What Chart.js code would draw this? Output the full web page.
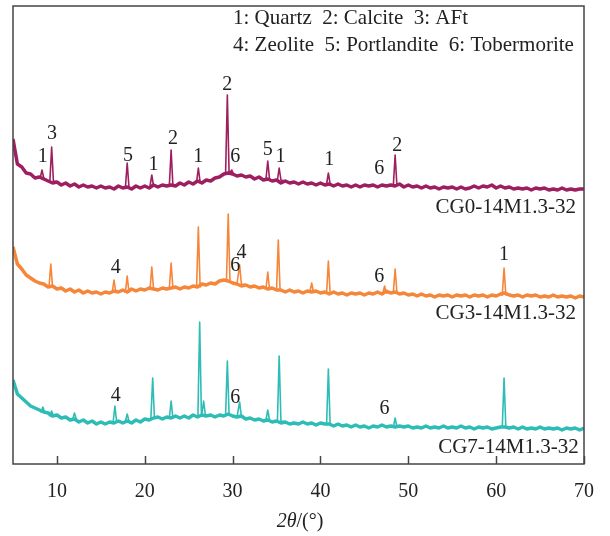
<!DOCTYPE html>
<html>
<head>
<meta charset="utf-8">
<script src="https://cdn.jsdelivr.net/npm/chart.js@4.4.1/dist/chart.umd.min.js"></script>
<style>
html, body { margin: 0; padding: 0; background: #fff; }
#wrap { width: 610px; height: 536px; }
</style>
</head>
<body>
<div id="wrap"><canvas id="myChart" width="610" height="536"></canvas></div>
<script>
/* Datos (intensidad relativa, apilada) */

const baseInicio = 5;   // 2theta del primer punto de fondo
const basePaso = 0.5;   // separacion de los puntos de fondo

// fondo de cada difractograma, de 5 a 70 grados
const fondoCG0 = [325, 300, 297, 291, 290, 286, 287, 285, 283, 281, 282, 279, 281, 278, 280, 277, 279, 277, 278, 276,
  278, 276, 277, 275, 278, 276, 277, 275, 278, 276, 278, 276, 279, 277, 279, 278, 279, 278, 281, 279,
  282, 280, 283, 281, 284, 283, 286, 287, 290, 291, 290, 288, 289, 287, 288, 285, 287, 284, 285, 283,
  284, 281, 283, 281, 282, 280, 282, 280, 281, 279, 281, 279, 280, 278, 280, 278, 279, 277, 279, 277,
  279, 278, 279, 277, 279, 278, 279, 278, 280, 277, 279, 277, 278, 276, 278, 276, 277, 275, 277, 276,
  277, 275, 277, 275, 276, 278, 276, 278, 277, 279, 276, 278, 276, 277, 275, 276, 275, 276, 274, 276,
  275, 276, 274, 275, 274, 276, 274, 275, 274, 275, 275];

const fondoCG3 = [217, 200, 195, 189, 186, 183, 181, 180, 177, 178, 175, 176, 173, 175, 172, 174, 171, 173, 171, 172,
  170, 172, 171, 173, 172, 174, 172, 175, 173, 175, 174, 176, 175, 174, 176, 175, 176, 177, 175, 177,
  176, 178, 177, 180, 179, 181, 180, 183, 184, 183, 181, 180, 178, 179, 177, 178, 176, 177, 175, 176,
  174, 174, 172, 174, 172, 173, 171, 173, 172, 173, 171, 172, 170, 172, 170, 171, 169, 171, 170, 171,
  169, 171, 170, 172, 170, 173, 171, 172, 170, 171, 169, 170, 168, 170, 168, 169, 167, 169, 168, 169,
  167, 169, 168, 169, 167, 169, 168, 169, 167, 169, 168, 170, 171, 169, 168, 169, 167, 169, 168, 169,
  167, 168, 167, 169, 167, 168, 167, 168, 166, 168, 167];

const fondoCG7 = [84, 70, 66, 62, 58, 56, 54, 52, 51, 48, 49, 46, 47, 44, 45, 42, 44, 41, 43, 40,
  42, 40, 42, 41, 43, 41, 43, 41, 44, 42, 45, 44, 46, 47, 45, 47, 46, 48, 46, 48,
  46, 49, 47, 49, 48, 49, 47, 49, 48, 50, 48, 47, 48, 45, 46, 44, 45, 43, 44, 42,
  43, 41, 42, 40, 41, 40, 42, 40, 41, 39, 41, 40, 40, 38, 40, 38, 39, 37, 39, 37,
  38, 36, 38, 37, 39, 37, 38, 37, 38, 37, 38, 36, 37, 36, 38, 36, 37, 36, 38, 36,
  37, 36, 38, 36, 37, 35, 37, 36, 37, 35, 36, 37, 37, 36, 37, 35, 37, 35, 36, 35,
  37, 35, 36, 35, 36, 34, 36, 35, 36, 34, 36];

// picos: [2theta, altura, fondo al pie]
const picosCG0 = [[8.3, 294, 286], [9.4, 317, 283], [18.0, 301, 277], [20.8, 289, 278], [23.0, 314, 279],
  [26.1, 296, 282], [29.4, 369, 290], [29.9, 294, 290], [34.0, 303, 285], [35.3, 296, 284],
  [40.9, 291, 280], [48.5, 309, 279]];

const picosCG3 = [[9.3, 200, 177], [16.5, 184, 172], [18.0, 188, 172], [20.8, 197, 175], [23.0, 201, 176],
  [26.1, 237, 177], [29.5, 250, 183], [30.8, 199, 180], [34.0, 192, 175], [35.2, 224, 174],
  [39.0, 181, 172], [40.9, 203, 171], [47.3, 178, 171], [48.5, 195, 172], [60.9, 196, 169]];

const picosCG7 = [[8.4, 57, 52], [9.4, 53, 48], [12.0, 51, 45], [16.6, 58, 42], [18.0, 50, 43],
  [20.9, 86, 46], [23.0, 63, 46], [26.25, 142, 48], [26.7, 63, 49], [29.4, 103, 49],
  [30.8, 62, 47], [34.0, 54, 44], [35.3, 108, 43], [40.9, 95, 40], [48.5, 46, 37], [60.9, 86, 37]];

// etiquetas de fases: [2theta, intensidad, texto]
const etiquetasCG0 = [[8.4, 307, '1'], [9.45, 330, '3'], [18.1, 308, '5'], [21.0, 299, '1'], [23.2, 325, '2'],
  [26.1, 307, '1'], [29.4, 379, '2'], [30.3, 307, '6'], [34.0, 314, '5'], [35.45, 307, '1'],
  [41.0, 304, '1'], [46.7, 295, '6'], [48.75, 318, '2']];
const etiquetasCG3 = [[16.7, 196, '4'], [31.0, 211, '4'], [30.3, 198, '6'], [46.7, 187, '6'], [60.9, 209, '1']];
const etiquetasCG7 = [[16.7, 68, '4'], [30.3, 66, '6'], [47.3, 55, '6']];

const nombres = ['CG0-14M1.3-32', 'CG3-14M1.3-32', 'CG7-14M1.3-32'];
const nombresPos = [[69.1, 257], [69.1, 151], [69.4, 17]];

const leyenda = ['1: Quartz  2: Calcite  3: AFt', '4: Zeolite  5: Portlandite  6: Tobermorite'];
const ticksX = [10, 20, 30, 40, 50, 60, 70];

const colores = ['#9e1f5f', '#f5863a', '#2ebdb6'];
const fuente = '"Liberation Serif", "Times New Roman", serif';

function soloFondo(fondo) {
  return fondo.map((v, i) => ({ x: baseInicio + i * basePaso, y: v }));
}

function construir(fondo, picos) {
  const pts = [];
  fondo.forEach(function(v, i) {
    const x = baseInicio + i * basePaso;
    if (picos.some(p => Math.abs(p[0] - x) < 0.25)) return;
    pts.push({ x: x, y: v });
  });
  picos.forEach(function(p) {
    pts.push({ x: p[0] - 0.2, y: p[2] });
    pts.push({ x: p[0], y: p[1] });
    pts.push({ x: p[0] + 0.2, y: p[2] });
  });
  pts.sort((a, b) => a.x - b.x);
  return pts;
}

/* Marco, ticks hacia dentro y textos */
const extras = {
  id: 'extras',
  afterDraw(chart) {
    const ctx = chart.ctx;
    const a = chart.chartArea;
    const xs = chart.scales.x;
    const ys = chart.scales.y;
    ctx.save();

    ctx.strokeStyle = '#444';
    ctx.lineWidth = 1.5;
    ctx.strokeRect(a.left, a.top, a.right - a.left, a.bottom - a.top);
    ticksX.forEach(function(t) {
      const px = Math.round(xs.getPixelForValue(t)) + 0.5;
      ctx.beginPath();
      ctx.moveTo(px, a.bottom);
      ctx.lineTo(px, a.bottom - 8);
      ctx.stroke();
    });

    ctx.fillStyle = '#222';
    ctx.textAlign = 'center';
    ctx.textBaseline = 'middle';
    ctx.font = '20px ' + fuente;
    [etiquetasCG0, etiquetasCG3, etiquetasCG7].forEach(function(lista) {
      lista.forEach(function(e) {
        ctx.fillText(e[2], xs.getPixelForValue(e[0]), ys.getPixelForValue(e[1]));
      });
    });

    ctx.font = '21px ' + fuente;
    ctx.textAlign = 'right';
    nombres.forEach(function(n, i) {
      ctx.fillText(n, xs.getPixelForValue(nombresPos[i][0]), ys.getPixelForValue(nombresPos[i][1]));
    });

    ctx.textAlign = 'left';
    ctx.fillText(leyenda[0], 233, 18);
    ctx.fillText(leyenda[1], 233, 45);

    // titulo del eje x: 2θ en cursiva
    ctx.font = 'italic 20px ' + fuente;
    const t1 = '2θ';
    const w1 = ctx.measureText(t1).width;
    ctx.font = '20px ' + fuente;
    const t2 = '/(°)';
    const w2 = ctx.measureText(t2).width;
    const x0 = 300 - (w1 + w2) / 2;
    ctx.font = 'italic 20px ' + fuente;
    ctx.fillText(t1, x0, 522);
    ctx.font = '20px ' + fuente;
    ctx.fillText(t2, x0 + w1, 522);

    ctx.restore();
  }
};

const ctx = document.getElementById('myChart').getContext('2d');

// banda gruesa para el ruido del fondo + linea fina con los picos
const series = [[fondoCG0, picosCG0], [fondoCG3, picosCG3], [fondoCG7, picosCG7]];
const datasets = [];
series.forEach(function(s, i) {
  datasets.push({ label: nombres[i] + ' fondo', data: soloFondo(s[0]), borderColor: colores[i], borderWidth: 3.5 });
  datasets.push({ label: nombres[i], data: construir(s[0], s[1]), borderColor: colores[i], borderWidth: 1.6 });
});

let chart = new Chart(ctx, {
  type: 'line',
  data: { datasets: datasets },
  options: {
    responsive: false,
    animation: false,
    layout: { padding: { left: 13, right: 24, top: 6, bottom: 0 } },
    elements: {
      point: { radius: 0 },
      line: { tension: 0, borderJoinStyle: 'round' }
    },
    plugins: {
      legend: { display: false },
      tooltip: { enabled: false }
    },
    scales: {
      x: {
        type: 'linear',
        min: 5,
        max: 70,
        afterBuildTicks: function(scale) {
          scale.ticks = ticksX.map(v => ({ value: v }));
        },
        afterFit: function(scale) {
          scale.height = 72;
        },
        grid: { display: false, drawTicks: false },
        border: { display: false },
        ticks: {
          autoSkip: false,
          maxRotation: 0,
          padding: 16,
          color: '#222',
          font: { family: fuente, size: 20 }
        }
      },
      y: {
        display: false,
        min: 0,
        max: 458
      }
    }
  },
  plugins: [extras]
});
</script>
</body>
</html>
